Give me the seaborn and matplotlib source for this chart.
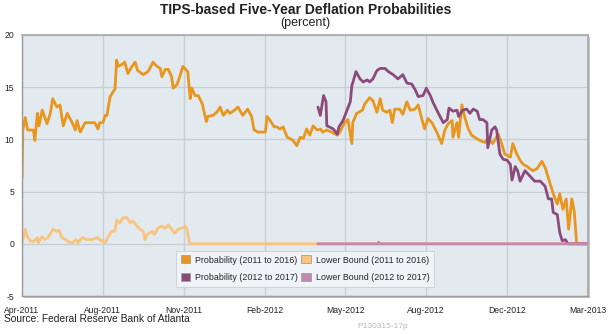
import matplotlib
matplotlib.use("Agg")
import matplotlib.pyplot as plt
from matplotlib.patches import Patch, Rectangle
import numpy as np
import pandas as pd
import seaborn as sns

# ---------------- data (x = days since 1 Apr 2011) ----------------
prob11_days = [0, 1, 4, 7, 14, 16, 19, 21, 25, 31, 35, 38, 43, 47, 51, 56, 62, 66, 68, 72,
               78, 84, 90, 94, 96, 100, 103, 105, 109, 113, 115, 117, 119, 124, 127, 131, 136,
               140, 143, 150, 156, 162, 167, 171, 173, 177, 181, 185, 187, 192, 195, 199, 205,
               208, 210, 214, 218, 223, 228, 230, 236, 241, 245, 249, 254, 257, 263, 267, 273,
               279, 284, 287, 292, 297, 301, 303, 307, 312, 315, 319, 323, 328, 331, 335, 340,
               344, 348, 352, 356, 360, 365, 369, 372, 377, 383, 390, 393, 399, 403, 408, 409,
               414, 421, 424, 430, 434, 439, 443, 446, 451, 455, 458, 461, 467, 471, 476, 480,
               486, 490, 495, 498, 502, 507, 513, 519, 523, 527, 532, 533, 538, 540, 544, 548,
               552, 556, 560, 566, 573, 576, 582, 589, 594, 597, 604, 607, 612, 616, 620, 625,
               628, 632, 637, 643, 647, 653, 657, 662, 665, 669, 673, 676, 680, 683, 686, 700]
prob11_vals = [6.3, 10.9, 12.1, 10.9, 10.9, 9.9, 12.5, 11.3, 12.8, 11.5, 12.5, 13.9, 13.1, 13.3,
               11.3, 12.5, 11.6, 10.9, 11.8, 10.7, 11.6, 11.6, 11.6, 11.0, 11.6, 11.6, 12.3, 12.3,
               14.1, 14.6, 14.8, 17.6, 17.0, 17.2, 17.4, 16.3, 17.0, 17.4, 16.6, 16.2, 16.5, 17.4,
               17.0, 16.8, 16.0, 16.7, 16.7, 16.0, 14.9, 15.3, 16.0, 17.0, 16.5, 13.9, 14.9, 14.2,
               14.2, 13.4, 11.7, 12.2, 12.3, 12.6, 13.1, 12.3, 12.8, 12.5, 12.8, 13.1, 12.3, 12.9,
               12.2, 10.9, 10.7, 10.7, 10.7, 12.2, 11.8, 11.2, 11.2, 11.0, 11.2, 10.2, 10.1, 9.9,
               9.4, 10.2, 10.1, 11.0, 10.4, 11.3, 10.9, 11.0, 10.7, 10.9, 10.7, 10.4, 10.7, 11.6,
               11.9, 9.6, 11.6, 12.5, 12.8, 13.4, 14.0, 13.7, 12.6, 13.9, 12.8, 12.6, 12.8, 11.6,
               12.9, 12.9, 12.4, 13.6, 12.8, 12.9, 13.3, 11.8, 11.0, 12.0, 11.6, 10.7, 9.6, 10.9,
               11.5, 11.8, 10.2, 11.6, 10.2, 13.3, 12.0, 11.0, 10.4, 10.2, 9.9, 9.7, 10.1, 9.6,
               10.5, 9.4, 8.6, 8.3, 9.6, 8.6, 8.0, 7.6, 7.4, 7.2, 7.0, 7.2, 7.9, 7.3, 5.8, 4.8,
               3.8, 4.8, 3.3, 4.3, 1.4, 4.3, 3.1, 0.0, 0.0]

low11_days = [0, 4, 6, 10, 14, 19, 20, 25, 28, 32, 37, 38, 43, 46, 49, 52, 57, 62, 67, 69, 75,
              80, 87, 93, 96, 103, 106, 111, 115, 117, 121, 125, 130, 134, 137, 142, 146, 150,
              152, 155, 161, 164, 168, 173, 177, 181, 185, 189, 193, 198, 202, 204, 207, 208, 700]
low11_vals = [0.1, 1.4, 0.8, 0.3, 0.2, 0.6, 0.1, 0.7, 0.4, 0.6, 1.2, 1.4, 1.2, 1.3, 0.6, 0.5,
              0.2, 0.1, 0.4, 0.1, 0.6, 0.4, 0.4, 0.6, 0.4, 0.1, 0.6, 1.2, 1.2, 2.3, 2.0, 2.5,
              2.5, 2.0, 2.2, 1.7, 1.4, 1.2, 0.4, 0.9, 1.2, 0.9, 1.5, 1.7, 1.5, 1.8, 1.4, 1.0,
              1.4, 1.5, 1.7, 1.4, 0.1, 0.0, 0.0]

prob12_days = [366, 369, 371, 373, 376, 377, 380, 385, 390, 392, 397, 402, 406, 408, 409, 413,
               418, 422, 427, 430, 434, 439, 443, 449, 453, 459, 465, 471, 476, 482, 486, 490,
               496, 500, 505, 508, 513, 517, 521, 526, 528, 533, 538, 540, 545, 550, 554, 558,
               563, 566, 570, 575, 576, 581, 585, 587, 591, 595, 600, 604, 606, 610, 613, 616,
               622, 628, 634, 641, 647, 651, 655, 657, 662, 665, 668, 672, 675, 700]
prob12_vals = [13.1, 12.3, 13.3, 14.2, 13.6, 11.3, 11.2, 11.0, 10.5, 11.2, 11.8, 12.8, 13.6,
               15.2, 15.4, 16.5, 15.8, 15.5, 15.7, 15.5, 15.8, 16.6, 16.8, 16.8, 16.5, 16.2,
               15.8, 16.2, 15.4, 15.3, 14.8, 14.1, 14.2, 14.9, 14.2, 13.6, 12.8, 12.2, 11.6,
               11.9, 13.0, 12.7, 12.8, 12.2, 12.8, 12.9, 12.5, 12.9, 12.7, 11.9, 11.9, 11.6,
               9.2, 10.9, 11.2, 10.9, 8.6, 8.1, 8.0, 7.6, 6.1, 7.4, 7.0, 6.0, 7.0, 6.5, 6.0,
               6.0, 5.5, 4.3, 4.3, 3.0, 2.8, 1.1, 0.3, 0.4, 0.0, 0.0]

low12_days = [366, 440, 441, 442, 700]
low12_vals = [0.0, 0.0, 0.15, 0.0, 0.0]

series_names = ["Probability (2011 to 2016)", "Lower Bound (2011 to 2016)",
                "Probability (2012 to 2017)", "Lower Bound (2012 to 2017)"]
series_colors = ["#E8961E", "#F8C47E", "#8C4A7A", "#C487B0"]

tick_days = [0, 100, 200, 300, 400, 500, 600, 700]
tick_labels = ["Apr-2011", "Aug-2011", "Nov-2011", "Feb-2012",
               "May-2012", "Aug-2012", "Dec-2012", "Mar-2013"]
y_ticks = [-5, 0, 5, 10, 15, 20]

# ---------------- build long table ----------------
frames = []
for name, d, v in zip(series_names,
                      [prob11_days, low11_days, prob12_days, low12_days],
                      [prob11_vals, low11_vals, prob12_vals, low12_vals]):
    frames.append(pd.DataFrame({"day": d, "value": v, "series": name}))
df = pd.concat(frames, ignore_index=True)

# ---------------- style ----------------
sns.set_style("white")
plt.rcParams["font.family"] = ["Liberation Sans", "DejaVu Sans"]

fig = plt.figure(figsize=(6.11, 3.34), dpi=100)
ax = fig.add_axes([22 / 611, 1 - 296 / 334, 566 / 611, 261 / 334])
ax.set_facecolor("#E2EAF0")

# shadow behind plot area
shadow = Rectangle((24 / 611, 1 - 298 / 334), 566 / 611, 261 / 334,
                   transform=fig.transFigure, facecolor="#C4C4C4", edgecolor="none",
                   zorder=-1)
fig.patches.append(shadow)

sns.lineplot(data=df, x="day", y="value", hue="series", hue_order=series_names,
             palette=dict(zip(series_names, series_colors)), estimator=None,
             linewidth=2.0, ax=ax, legend=False)

ax.set_xlim(0, 700)
ax.set_ylim(-5, 20)
ax.set_xticks(tick_days)
ax.set_xticklabels(tick_labels)
ax.set_yticks(y_ticks)
ax.set_yticklabels([str(t) for t in y_ticks])
ax.set_xlabel("")
ax.set_ylabel("")
ax.grid(True, color="#C9CED2", linewidth=1.0)
ax.set_axisbelow(True)
ax.tick_params(axis="both", which="major", length=4, width=0.8, color="#9A9A9A",
               labelsize=6.2, labelcolor="#222222", pad=1.5)
ax.tick_params(axis="x", pad=3)
for s in ["left", "bottom"]:
    ax.spines[s].set_color("#9A9A9A")
    ax.spines[s].set_linewidth(1.0)
for s in ["top", "right"]:
    ax.spines[s].set_color("#A8A8A8")
    ax.spines[s].set_linewidth(1.2)

handles = [Patch(facecolor=c, edgecolor="#A0A0A0", linewidth=0.6) for c in series_colors]
order = [0, 2, 1, 3]
leg = ax.legend([handles[i] for i in order], [series_names[i] for i in order],
                ncol=2, loc="lower center", bbox_to_anchor=(0.5, 0.035),
                fontsize=6.4, frameon=True, fancybox=False, borderaxespad=0,
                handlelength=1.1, handleheight=1.0, handletextpad=0.5,
                columnspacing=0.4, labelspacing=1.0, borderpad=0.5)
leg.get_frame().set_facecolor("#F2F5F8")
leg.get_frame().set_edgecolor("#D0D0D0")
leg.get_frame().set_linewidth(0.8)
leg.get_frame().set_alpha(0.9)

fig.text(0.5, 1 - 10 / 334, "TIPS-based Five-Year Deflation Probabilities",
         ha="center", va="center", fontsize=10, fontweight="bold", color="#222222")
fig.text(0.5, 1 - 23 / 334, "(percent)", ha="center", va="center",
         fontsize=9, color="#222222")
fig.text(4 / 611, 1 - 319 / 334, "Source: Federal Reserve Bank of Atlanta",
         ha="left", va="center", fontsize=7.4, color="#222222")
fig.text(383 / 611, 1 - 326 / 334, "P130315-17p", ha="center", va="center",
         fontsize=6, color="#B4B8C0")

fig.savefig("out.png", dpi=100)
